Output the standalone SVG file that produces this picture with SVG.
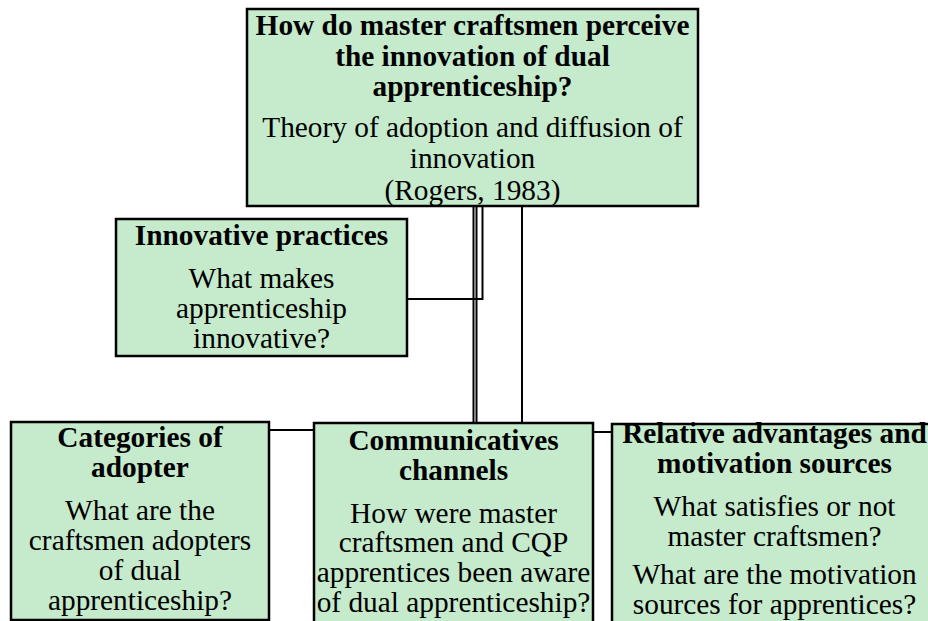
<svg xmlns="http://www.w3.org/2000/svg" width="928" height="621" viewBox="0 0 928 621">
<style>
.box{fill:#c6eacc;stroke:#000;stroke-width:2.5}
.h{font-family:"Liberation Serif","Times New Roman",serif;font-weight:bold;font-size:29.33px;text-anchor:middle;fill:#000}
.t{font-family:"Liberation Serif","Times New Roman",serif;font-size:29.33px;text-anchor:middle;fill:#000}
.c{fill:none;stroke:#000;stroke-width:2}
</style>
<rect width="928" height="621" fill="#fff"/>
<g id="connectors">
<polyline class="c" points="482.5,206 482.5,299 407,299"/>
<line class="c" x1="473.5" y1="206" x2="473.5" y2="422"/>
<line class="c" x1="476.5" y1="206" x2="476.5" y2="422"/>
<line class="c" x1="522" y1="206" x2="522" y2="422"/>
<line class="c" x1="269" y1="430" x2="314" y2="430"/>
<line class="c" x1="593" y1="432" x2="612" y2="432"/>
</g>
<g id="top">
<rect class="box" x="247" y="9" width="451" height="197"/>
<text class="h" x="472.5" y="35">How do master craftsmen perceive</text>
<text class="h" x="472.5" y="65.5">the innovation of dual</text>
<text class="h" x="472.5" y="96">apprenticeship?</text>
<text class="t" x="472.5" y="137">Theory of adoption and diffusion of</text>
<text class="t" x="472.5" y="168">innovation</text>
<text class="t" x="472.5" y="200">(Rogers, 1983)</text>
</g>
<g id="innovative">
<rect class="box" x="116" y="219" width="291" height="137"/>
<text class="h" x="261.5" y="245">Innovative practices</text>
<text class="t" x="261.5" y="288">What makes</text>
<text class="t" x="261.5" y="318">apprenticeship</text>
<text class="t" x="261.5" y="348">innovative?</text>
</g>
<g id="categories">
<rect class="box" x="11" y="422" width="258" height="198"/>
<text class="h" x="140" y="447">Categories of</text>
<text class="h" x="140" y="477">adopter</text>
<text class="t" x="140" y="520">What are the</text>
<text class="t" x="140" y="550">craftsmen adopters</text>
<text class="t" x="140" y="580">of dual</text>
<text class="t" x="140" y="610">apprenticeship?</text>
</g>
<g id="communicatives">
<rect class="box" x="314" y="423" width="279" height="210"/>
<text class="h" x="453.5" y="450">Communicatives</text>
<text class="h" x="453.5" y="480">channels</text>
<text class="t" x="453.5" y="523">How were master</text>
<text class="t" x="453.5" y="552">craftsmen and CQP</text>
<text class="t" x="453.5" y="582">apprentices been aware</text>
<text class="t" x="453.5" y="612">of dual apprenticeship?</text>
</g>
<g id="relative">
<rect class="box" x="612" y="424" width="325" height="210"/>
<text class="h" x="774.5" y="443">Relative advantages and</text>
<text class="h" x="774.5" y="473">motivation sources</text>
<text class="t" x="774.5" y="516">What satisfies or not</text>
<text class="t" x="774.5" y="546">master craftsmen?</text>
<text class="t" x="774.5" y="584">What are the motivation</text>
<text class="t" x="774.5" y="614">sources for apprentices?</text>
</g>
</svg>
